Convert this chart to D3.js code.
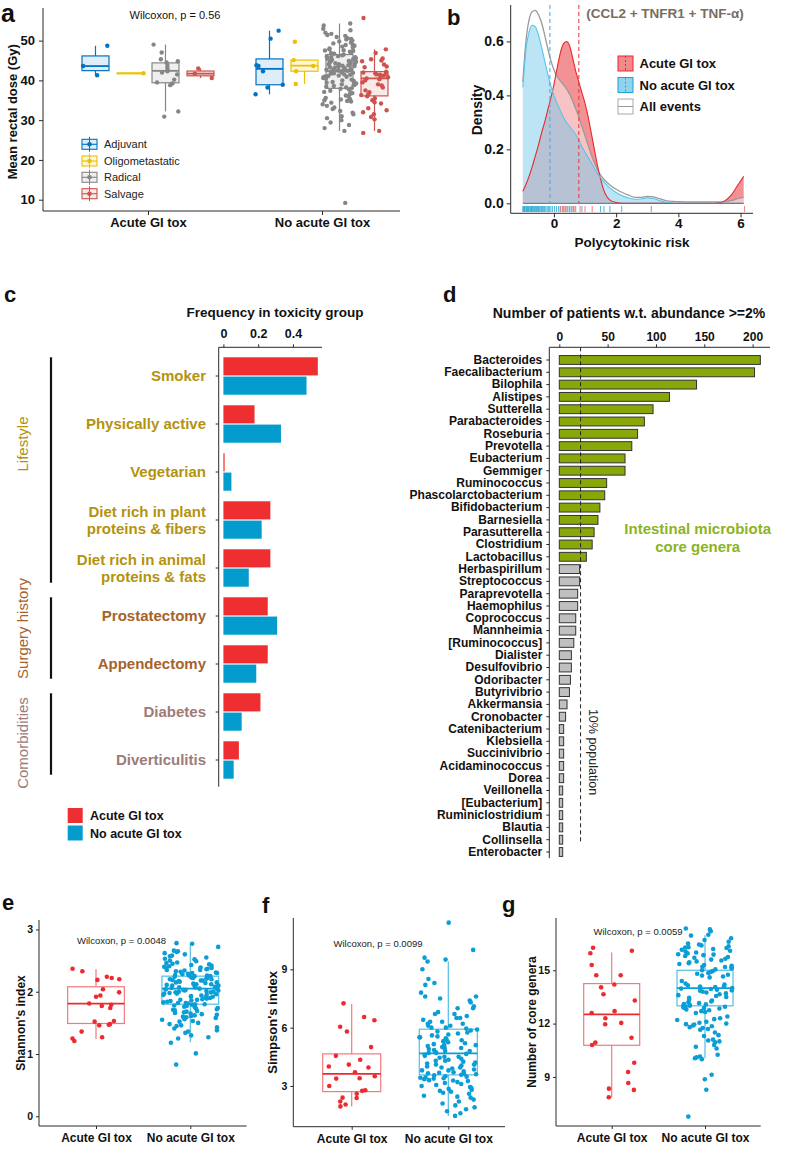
<!DOCTYPE html>
<html><head><meta charset="utf-8">
<script src="https://cdn.jsdelivr.net/npm/d3@7"></script>
<style>body{margin:0;background:#fff}svg{display:block}text{font-family:"Liberation Sans",Arial,sans-serif}</style>
</head><body><svg id="fig" width="794" height="1158"></svg>
<script>
// ================= DATA =================
// ---- panel a : mean rectal dose ----
const aGroups = ["Acute GI tox", "No acute GI tox"];
const aIntents = ["Adjuvant", "Oligometastatic", "Radical", "Salvage"];
const aColors = ["#0073C2", "#EFC000", "#868686", "#CD534C"];
const aAcuteAdjuvant = [48.7, 43.6, 41.3];
const aAcuteOligo = [41.8];
const aAcuteRadical = [49.0, 47.0, 45.3, 44.8, 44.5, 43.9, 43.2, 42.6, 42.3, 42.0, 41.5, 40.2, 39.5, 39.2, 38.8, 32.2, 30.9];
const aAcuteSalvage = [43.0, 41.7, 40.6];
const aNoAdjuvant = [52.5, 50.5, 43.8, 43.6, 42.3, 38.9, 38.2, 36.5];
const aNoOligo = [49.7, 45.1, 43.6, 42.3, 39.1];
const aNoRadical = [54.3,53.8,53.0,52.6,52.0,51.7,51.4,51.2,50.9,50.6,50.4,50.3,50.0,49.8,49.5,49.3,49.0,48.9,48.7,48.5,48.3,48.0,47.8,47.6,47.5,47.4,47.2,47.0,46.9,46.7,46.5,46.3,46.1,46.0,45.9,45.8,45.6,45.4,45.3,45.2,45.1,44.9,44.8,44.7,44.6,44.5,44.3,44.2,44.1,44.0,43.9,43.8,43.7,43.6,43.5,43.4,43.3,43.2,43.1,43.0,42.9,42.9,42.8,42.7,42.6,42.5,42.4,42.3,42.2,42.2,42.1,42.0,41.9,41.8,41.7,41.5,41.4,41.2,41.1,41.0,40.9,40.8,40.6,40.4,40.2,40.0,39.9,39.8,39.6,39.4,39.2,39.0,38.9,38.8,38.6,38.4,38.2,38.0,37.9,37.7,37.4,37.1,36.9,36.8,36.5,36.2,35.9,35.6,35.3,35.2,35.0,34.8,34.7,34.4,34.0,33.6,33.2,32.8,32.3,31.9,31.5,31.0,30.5,30.0,29.4,28.8,28.0,27.3,9.2];
const aNoSalvage = [55.7,47.8,46.9,45.5,45.3,45.0,44.8,44.0,43.5,43.3,42.2,42.0,41.8,41.7,41.5,41.4,41.2,41.0,40.8,40.5,40.3,40.0,39.5,39.0,38.7,38.2,37.5,37.0,36.5,36.3,36.0,35.5,35.0,34.5,34.2,33.0,32.5,32.0,31.5,30.8,30.2,27.3,26.8];
// box stats [lower whisker, q1, median, q3, upper whisker]
const aStatsAcute = [[41.3,42.45,43.6,46.15,48.7],[41.8,41.8,41.8,41.8,41.8],[32.2,39.4,42.4,44.4,49.0],[40.6,41.15,41.7,42.35,43.0]];
const aStatsNo = [[36.5,38.9,42.9,45.4,52.5],[39.1,42.3,43.7,45.1,45.1],[27.3,38.0,42.3,46.5,54.3],[27.3,36.1,40.5,42.2,47.8]];
const aTicks = [10, 20, 30, 40, 50];

// ---- panel b : polycytokinic risk densities ----
const bGrid  = [-1,-0.9,-0.8,-0.7,-0.6,-0.5,-0.4,-0.3,-0.2,-0.1,0,0.1,0.2,0.3,0.4,0.5,0.6,0.7,0.8,0.9,1.0,1.1,1.2,1.3,1.4,1.5,1.6,1.7,1.8,2.0,2.2,2.4,2.6,2.8,3.0,3.2,3.4,3.6,3.8,4.0,4.5,5.0,5.3,5.5,5.7,5.9,6.1];
const bAcute = [0.045,0.07,0.1,0.135,0.175,0.215,0.26,0.3,0.345,0.39,0.44,0.5,0.555,0.59,0.6,0.585,0.54,0.49,0.45,0.41,0.37,0.32,0.26,0.2,0.14,0.09,0.05,0.025,0.012,0.003,0,0,0,0,0,0,0,0,0,0,0,0,0.002,0.01,0.03,0.065,0.1];
const bNo    = [0.43,0.57,0.635,0.66,0.655,0.625,0.58,0.53,0.48,0.435,0.4,0.37,0.345,0.32,0.3,0.285,0.27,0.255,0.235,0.21,0.19,0.17,0.15,0.13,0.11,0.095,0.08,0.068,0.057,0.04,0.028,0.02,0.015,0.016,0.02,0.018,0.01,0.004,0.001,0,0,0,0,0,0,0,0];
const bAll   = [0.45,0.6,0.68,0.71,0.715,0.7,0.67,0.625,0.575,0.53,0.495,0.47,0.455,0.44,0.425,0.405,0.38,0.35,0.32,0.285,0.25,0.215,0.18,0.15,0.125,0.105,0.09,0.078,0.068,0.052,0.04,0.03,0.022,0.022,0.026,0.024,0.017,0.01,0.007,0.006,0.005,0.005,0.005,0.006,0.01,0.017,0.023];
const bMedians = [0.8, -0.13]; // acute, no acute
const bRugNo = [-1.0,-0.98,-0.95,-0.93,-0.9,-0.88,-0.85,-0.82,-0.8,-0.77,-0.75,-0.72,-0.7,-0.68,-0.65,-0.62,-0.6,-0.57,-0.55,-0.52,-0.5,-0.47,-0.44,-0.4,-0.37,-0.33,-0.3,-0.26,-0.22,-0.18,-0.15,-0.1,-0.05,0.02,0.08,0.15,0.22,0.3,0.38,0.45,0.55,0.62,0.7,0.9,1.5,1.61,1.8,2.18,3.13];
const bRugAcute = [0.2,0.28,0.35,0.42,0.5,0.58,0.65,0.84,1.0,1.23,6.13];
const bYTicks = [0, 0.2, 0.4, 0.6];
const bXTicks = [0, 2, 4, 6];

// ---- panel c : frequency in toxicity group ----
const cCats = ["Smoker","Physically active","Vegetarian","Diet rich in plant\nproteins & fibers","Diet rich in animal\nproteins & fats","Prostatectomy","Appendectomy","Diabetes","Diverticulitis"];
const cCatGroup = ["Lifestyle","Lifestyle","Lifestyle","Lifestyle","Lifestyle","Surgery history","Surgery history","Comorbidities","Comorbidities"];
const cAcute = [0.543,0.179,0.007,0.27,0.27,0.255,0.255,0.213,0.089];
const cNo    = [0.478,0.331,0.046,0.22,0.146,0.309,0.189,0.105,0.059];
const cTicks = [0, 0.2, 0.4];

// ---- panel d : genera abundance ----
const dGenera = ["Bacteroides","Faecalibacterium","Bilophila","Alistipes","Sutterella","Parabacteroides","Roseburia","Prevotella","Eubacterium","Gemmiger","Ruminococcus","Phascolarctobacterium","Bifidobacterium","Barnesiella","Parasutterella","Clostridium","Lactobacillus","Herbaspirillum","Streptococcus","Paraprevotella","Haemophilus","Coprococcus","Mannheimia","[Ruminococcus]","Dialister","Desulfovibrio","Odoribacter","Butyrivibrio","Akkermansia","Cronobacter","Catenibacterium","Klebsiella","Succinivibrio","Acidaminococcus","Dorea","Veillonella","[Eubacterium]","Ruminiclostridium","Blautia","Collinsella","Enterobacter"];
const dCounts = [208,202,142,114,97,88,81,75,68,68,49,47,42,40,36,34,28,21,21,19,19,17,17,15,12.5,12.5,11.5,10.5,8,6.5,4.5,4.5,4.5,4.5,4.5,3.5,3.5,3.5,3.5,3.5,3.5];
const dCoreN = 17;
const dThreshold = 22;
const dTicks = [0, 50, 100, 150, 200];

// ---- panels e, f, g : diversity ----
const eAcute = [2.37,2.33,2.24,2.22,2.2,2.19,2.04,1.99,1.94,1.92,1.81,1.79,1.77,1.74,1.53,1.52,1.48,1.47,1.46,1.36,1.27,1.25,1.21];
const eNo = [2.78,2.77,2.72,2.66,2.65,2.64,2.62,2.6,2.58,2.57,2.55,2.53,2.52,2.5,2.49,2.47,2.46,2.45,2.44,2.43,2.42,2.41,2.4,2.39,2.39,2.38,2.37,2.36,2.35,2.35,2.34,2.33,2.32,2.31,2.3,2.3,2.29,2.28,2.27,2.26,2.26,2.25,2.25,2.24,2.23,2.22,2.22,2.21,2.2,2.2,2.19,2.18,2.18,2.17,2.16,2.15,2.15,2.14,2.13,2.12,2.12,2.11,2.1,2.1,2.09,2.08,2.08,2.07,2.07,2.06,2.05,2.05,2.04,2.04,2.03,2.03,2.02,2.02,2.01,2.0,2.0,1.99,1.99,1.98,1.97,1.97,1.96,1.95,1.95,1.94,1.93,1.92,1.92,1.91,1.9,1.89,1.88,1.87,1.87,1.86,1.85,1.84,1.83,1.82,1.82,1.81,1.8,1.8,1.79,1.78,1.77,1.76,1.75,1.74,1.73,1.72,1.71,1.7,1.69,1.68,1.67,1.66,1.65,1.64,1.63,1.62,1.61,1.6,1.59,1.58,1.56,1.55,1.53,1.52,1.5,1.48,1.46,1.45,1.43,1.41,1.38,1.36,1.34,1.3,1.27,1.25,1.18,1.01,0.83];
const eStats = [[1.24,1.49,1.81,2.08,2.36],[1.19,1.80,2.05,2.25,2.78]];
const fAcute = [7.25,6.55,6.38,6.05,5.8,5.0,4.55,4.35,4.1,4.0,3.95,3.7,3.5,3.4,3.38,3.0,2.78,2.75,2.6,2.4,2.38,2.2,2.05,1.95];
const fNo = [11.4,10.0,9.6,9.5,9.4,9.0,8.5,8.3,8.2,7.8,7.6,7.6,7.5,7.4,7.3,7.1,7.0,7.0,6.8,6.7,6.7,6.6,6.5,6.5,6.4,6.3,6.3,6.2,6.2,6.1,6.1,6.0,6.0,5.95,5.9,5.85,5.8,5.75,5.7,5.65,5.6,5.55,5.5,5.5,5.45,5.4,5.35,5.3,5.3,5.25,5.2,5.15,5.1,5.1,5.05,5.0,4.95,4.95,4.9,4.85,4.8,4.8,4.75,4.7,4.7,4.65,4.6,4.55,4.5,4.5,4.45,4.4,4.35,4.3,4.3,4.25,4.2,4.15,4.1,4.1,4.05,4.0,3.95,3.95,3.9,3.85,3.8,3.8,3.75,3.7,3.68,3.65,3.62,3.6,3.58,3.55,3.5,3.48,3.45,3.42,3.4,3.38,3.35,3.3,3.28,3.25,3.2,3.15,3.1,3.05,3.0,2.95,2.9,2.85,2.8,2.75,2.7,2.65,2.6,2.5,2.45,2.4,2.3,2.2,2.1,2.0,1.9,1.8,1.7,1.6,1.46];
const fStats = [[1.94,2.71,3.62,4.65,7.22],[1.46,3.57,4.68,5.92,9.4]];
const gAcute = [15.96,16.27,16.1,15.3,14.72,14.72,14.2,14.04,13.65,13.3,12.7,12.6,12.3,12.04,11.96,11.2,10.93,10.8,9.8,9.28,8.66,8.34,8.27,7.86];
const gNo = [17.35,17.3,17.2,17.0,16.95,16.8,16.7,16.6,16.5,16.45,16.4,16.35,16.3,16.28,16.25,16.2,16.15,16.1,16.05,16.0,15.95,15.9,15.88,15.85,15.8,15.75,15.7,15.65,15.6,15.55,15.5,15.45,15.4,15.35,15.3,15.25,15.2,15.18,15.15,15.1,15.05,15.0,14.95,14.9,14.85,14.8,14.75,14.7,14.65,14.6,14.4,14.25,14.2,14.15,14.1,14.08,14.05,14.0,13.97,13.95,13.9,13.87,13.85,13.8,13.75,13.7,13.65,13.6,13.55,13.5,13.45,13.35,13.3,13.25,13.2,13.15,13.1,13.08,13.05,13.02,13.0,12.97,12.95,12.9,12.88,12.85,12.8,12.75,12.7,12.65,12.6,12.4,12.3,12.25,12.2,12.1,12.05,12.0,11.97,11.95,11.9,11.85,11.8,11.75,11.7,11.65,11.5,11.35,11.3,11.1,11.05,11.0,10.95,10.8,10.7,10.6,10.25,10.15,10.1,10.05,10.0,9.12,8.87,8.28,6.77];
const gStats = [[7.84,10.78,12.52,14.25,16.0],[10.05,13.0,14.0,15.0,16.97]];

// ================= DRAWING =================
const svg = d3.select("#fig");
svg.append("rect").attr("width",794).attr("height",1158).attr("fill","#fff");
const AX = "#2a2a2a";
const SANS = "Liberation Sans, Arial, sans-serif";
const LATO = "Lato, 'Open Sans', sans-serif";
// deterministic horizontal jitter (position only)
function jit(i, half, seed){
  const s = Math.sin((i + 1) * 12.9898 + (seed || 0) * 78.233) * 43758.5453;
  return ((s - Math.floor(s)) - 0.5) * 2 * half;
}
function styleAxis(g, size, weight){
  g.select(".domain").remove();
  g.selectAll(".tick line").attr("stroke", AX);
  g.selectAll(".tick text").attr("font-size", size).attr("font-weight", weight || "bold")
    .attr("fill", "#111").attr("font-family", SANS);
}
function hline(x1,x2,y){ svg.append("line").attr("x1",x1).attr("x2",x2).attr("y1",y).attr("y2",y).attr("stroke",AX).attr("stroke-width",1); }
function vline(x,y1,y2){ svg.append("line").attr("x1",x).attr("x2",x).attr("y1",y1).attr("y2",y2).attr("stroke",AX).attr("stroke-width",1); }
function txt(x,y,s,size,opts){
  opts = opts || {};
  const t = svg.append("text").attr("x",x).attr("y",y).text(s).attr("font-size",size)
    .attr("font-weight",opts.weight||"normal").attr("fill",opts.fill||"#111")
    .attr("text-anchor",opts.anchor||"start").attr("font-family",opts.family||SANS);
  if (opts.rotate) t.attr("transform",`rotate(${opts.rotate},${x},${y})`);
  if (opts.dy) t.attr("dy",opts.dy);
  return t;
}
function drawBox(g, cx, w, st, y, stroke, fill, fillOp, medStroke){
  g.append("line").attr("x1",cx).attr("x2",cx).attr("y1",y(st[0])).attr("y2",y(st[1])).attr("stroke",stroke).attr("stroke-width",1.2);
  g.append("line").attr("x1",cx).attr("x2",cx).attr("y1",y(st[3])).attr("y2",y(st[4])).attr("stroke",stroke).attr("stroke-width",1.2);
  g.append("rect").attr("x",cx-w/2).attr("width",w).attr("y",y(st[3])).attr("height",Math.max(0.5,y(st[1])-y(st[3])))
    .attr("fill",fill).attr("fill-opacity",fillOp).attr("stroke",stroke).attr("stroke-width",1.2);
  g.append("line").attr("x1",cx-w/2).attr("x2",cx+w/2).attr("y1",y(st[2])).attr("y2",y(st[2])).attr("stroke",medStroke||stroke).attr("stroke-width",1.8);
}

// ---------- panel a ----------
(function(){
  const y = d3.scaleLinear().domain([7.16,58.2]).range([211,8]);
  const x = d3.scalePoint().domain(aGroups).range([148,322]);
  const dodge = d3.scaleBand().domain(aIntents).range([-70,70]).paddingInner(0.229).paddingOuter(0.1145);
  const g = svg.append("g");
  const pts = [[aAcuteAdjuvant,aAcuteOligo,aAcuteRadical,aAcuteSalvage],[aNoAdjuvant,aNoOligo,aNoRadical,aNoSalvage]];
  const stats = [aStatsAcute, aStatsNo];
  aGroups.forEach((grp,gi)=>{
    aIntents.forEach((it,ii)=>{
      const cx = x(grp) + dodge(it) + dodge.bandwidth()/2;
      drawBox(g, cx, dodge.bandwidth(), stats[gi][ii], y, aColors[ii], aColors[ii], 0.13);
      const half = pts[gi][ii].length > 60 ? 17 : 14;
      g.selectAll(null).data(pts[gi][ii]).join("circle")
        .attr("cx",(d,i)=> pts[gi][ii].length===1 ? cx + 13 : cx + jit(i, half, gi*4+ii))
        .attr("cy",d=>y(d)).attr("r",2.2).attr("fill",aColors[ii]);
    });
  });
  vline(43,8,211); hline(43,400,211);
  const ya = svg.append("g").attr("transform","translate(43,0)").call(d3.axisLeft(y).tickValues(aTicks).tickSize(4).tickPadding(4));
  styleAxis(ya, 13);
  const xa = svg.append("g").attr("transform","translate(0,211)").call(d3.axisBottom(x).tickSize(4).tickPadding(2.5));
  styleAxis(xa, 13);
  txt(1,22,"a",25,{weight:"bold"});
  txt(175,19,"Wilcoxon, p = 0.56",11,{anchor:"middle"});
  txt(17.5,111.7,"Mean rectal dose (Gy)",13,{weight:"bold",anchor:"middle",rotate:-90});
  const ly = [144.3,161,177.3,193.7];
  aIntents.forEach((it,i)=>{
    const c = aColors[i];
    svg.append("line").attr("x1",89.5).attr("x2",89.5).attr("y1",ly[i]-7.5).attr("y2",ly[i]+7.5).attr("stroke",c).attr("stroke-width",1);
    svg.append("rect").attr("x",82).attr("y",ly[i]-5).attr("width",15).attr("height",10).attr("fill",c).attr("fill-opacity",0.13).attr("stroke",c).attr("stroke-width",1.1);
    svg.append("line").attr("x1",82).attr("x2",97).attr("y1",ly[i]).attr("y2",ly[i]).attr("stroke",c).attr("stroke-width",1.1);
    svg.append("circle").attr("cx",89.5).attr("cy",ly[i]).attr("r",2.3).attr("fill",c);
    txt(104,ly[i],it,11,{dy:"0.35em",fill:"#222"});
  });
})();

// ---------- panel b ----------
(function(){
  const x = d3.scaleLinear().domain([-1.39,6.4]).range([510.7,753]);
  const y = d3.scaleLinear().domain([-0.037,0.735]).range([213.3,5]);
  const g = svg.append("g");
  const area = vals => d3.area().x((d,i)=>x(bGrid[i])).y0(y(0)).y1((d)=>y(d)).curve(d3.curveMonotoneX)(vals);
  const line = vals => d3.line().x((d,i)=>x(bGrid[i])).y(d=>y(d)).curve(d3.curveMonotoneX)(vals);
  g.append("path").attr("d",area(bAcute)).attr("fill","#e8383d").attr("fill-opacity",0.55);
  g.append("path").attr("d",area(bAll)).attr("fill","#ffffff").attr("fill-opacity",0.45);
  g.append("path").attr("d",area(bNo)).attr("fill","#69c3e8").attr("fill-opacity",0.45);
  g.append("path").attr("d",line(bAll)).attr("fill","none").attr("stroke","#9a9a9a").attr("stroke-width",1.3);
  g.append("path").attr("d",line(bAcute)).attr("fill","none").attr("stroke","#e8282e").attr("stroke-width",1.1);
  g.append("path").attr("d",line(bNo)).attr("fill","none").attr("stroke","#5bc4ea").attr("stroke-width",1.1);
  g.append("line").attr("x1",x(-1)).attr("x2",x(6.1)).attr("y1",y(0)).attr("y2",y(0)).attr("stroke","#5d6b7d").attr("stroke-width",1);
  g.append("line").attr("x1",x(bMedians[1])).attr("x2",x(bMedians[1])).attr("y1",5).attr("y2",y(0)).attr("stroke","#4aaee0").attr("stroke-width",1.1).attr("stroke-dasharray","4,3");
  g.append("line").attr("x1",x(bMedians[0])).attr("x2",x(bMedians[0])).attr("y1",5).attr("y2",y(0)).attr("stroke","#e84040").attr("stroke-width",1.1).attr("stroke-dasharray","4,3");
  g.selectAll(null).data(bRugNo).join("line").attr("x1",d=>x(d)).attr("x2",d=>x(d)).attr("y1",206).attr("y2",212)
    .attr("stroke","#1e9fd0").attr("stroke-width",0.8);
  g.selectAll(null).data(bRugAcute).join("line").attr("x1",d=>x(d)).attr("x2",d=>x(d)).attr("y1",206).attr("y2",212)
    .attr("stroke","#f05a5a").attr("stroke-width",0.8);
  vline(510.7,5,213.3); hline(510.7,753,213.3);
  const ya = svg.append("g").attr("transform","translate(510.7,0)").call(d3.axisLeft(y).tickValues(bYTicks).tickFormat(d3.format(".1f")).tickSize(4).tickPadding(3));
  styleAxis(ya, 14);
  const xa = svg.append("g").attr("transform","translate(0,213.3)").call(d3.axisBottom(x).tickValues(bXTicks).tickFormat(d3.format("d")).tickSize(4).tickPadding(1.5));
  styleAxis(xa, 13.5);
  txt(447,25,"b",22,{weight:"bold"});
  txt(665,18,"(CCL2 + TNFR1 + TNF-\u03b1)",13.5,{weight:"bold",anchor:"middle",family:LATO,fill:"#7a6c60"});
  txt(481.5,110,"Density",14,{weight:"bold",anchor:"middle",rotate:-90});
  txt(632,246.5,"Polycytokinic risk",13.5,{weight:"bold",anchor:"middle"});
  const ky = [56,77.5,99];
  svg.append("rect").attr("x",618).attr("y",ky[0]).attr("width",15).attr("height",15).attr("fill","#f28a8c").attr("stroke","#e8282e");
  svg.append("line").attr("x1",625.5).attr("x2",625.5).attr("y1",ky[0]).attr("y2",ky[0]+15).attr("stroke","#e8282e").attr("stroke-dasharray","2,2");
  svg.append("rect").attr("x",618).attr("y",ky[1]).attr("width",15).attr("height",15).attr("fill","#8fd3ef").attr("stroke","#1ea0d8");
  svg.append("line").attr("x1",625.5).attr("x2",625.5).attr("y1",ky[1]).attr("y2",ky[1]+15).attr("stroke","#1ea0d8").attr("stroke-dasharray","2,2");
  svg.append("rect").attr("x",618).attr("y",ky[2]).attr("width",15).attr("height",15).attr("fill","#fff").attr("stroke","#aaa");
  svg.append("line").attr("x1",618).attr("x2",633).attr("y1",ky[2]+7.5).attr("y2",ky[2]+7.5).attr("stroke","#999");
  ["Acute GI tox","No acute GI tox","All events"].forEach((s,i)=>txt(639.5,ky[i]+7.5,s,13,{weight:"bold",dy:"0.35em"}));
})();

// ---------- panel c ----------
(function(){
  const x = d3.scaleLinear().domain([-0.027,0.567]).range([218.7,322]);
  const y = d3.scaleBand().domain(cCats).range([352,784]).paddingInner(0.22).paddingOuter(0.11);
  const sub = d3.scaleBand().domain(["acute","no"]).range([0,y.bandwidth()]).paddingInner(0.06);
  const g = svg.append("g");
  const groupColor = {"Lifestyle":"#b3930e","Surgery history":"#a5632b","Comorbidities":"#9d7b79"};
  cCats.forEach((c,i)=>{
    g.append("rect").attr("x",x(0)).attr("y",y(c)+sub("acute")).attr("width",x(cAcute[i])-x(0)).attr("height",sub.bandwidth()).attr("fill","#ee2e31");
    g.append("rect").attr("x",x(0)).attr("y",y(c)+sub("no")).attr("width",x(cNo[i])-x(0)).attr("height",sub.bandwidth()).attr("fill","#049bcd");
    const lines = c.split("\n");
    const cy = y(c) + y.bandwidth()/2;
    lines.forEach((l,j)=>{
      txt(206, cy + (j-(lines.length-1)/2)*17, l, 15, {weight:"bold",anchor:"end",family:LATO,fill:groupColor[cCatGroup[i]],dy:"0.35em"});
    });
  });
  vline(218.7,347.3,786.7); hline(218.7,322,347.3);
  const xa = svg.append("g").attr("transform","translate(0,347.3)").call(d3.axisTop(x).tickValues(cTicks).tickFormat(d=>d===0?"0":d3.format(".1f")(d)).tickSize(3).tickPadding(6));
  styleAxis(xa, 12.5);
  const ya = svg.append("g").attr("transform","translate(218.7,0)").call(d3.axisLeft(y).tickSize(3).tickFormat(""));
  styleAxis(ya, 1);
  txt(4,302,"c",22,{weight:"bold"});
  txt(275,317,"Frequency in toxicity group",13.5,{weight:"bold",anchor:"middle"});
  const groups = [["Lifestyle",0,4,444],["Surgery history",5,6,628.5],["Comorbidities",7,8,743]];
  groups.forEach(([name,a,b,ly])=>{
    svg.append("line").attr("x1",51).attr("x2",51).attr("y1",y(cCats[a])).attr("y2",y(cCats[b])+y.bandwidth()-4)
      .attr("stroke","#111").attr("stroke-width",2.2);
    txt(27.5, ly, name, 15, {anchor:"middle",rotate:-90,family:LATO,fill:groupColor[name]});
  });
  svg.append("rect").attr("x",67.7).attr("y",808).attr("width",15).attr("height",15).attr("fill","#ee2e31");
  svg.append("rect").attr("x",67.7).attr("y",825.5).attr("width",15).attr("height",15).attr("fill","#049bcd");
  txt(90,815.5,"Acute GI tox",12.5,{weight:"bold",dy:"0.35em"});
  txt(90,833.5,"No acute GI tox",12.5,{weight:"bold",dy:"0.35em"});
})();

// ---------- panel d ----------
(function(){
  const x = d3.scaleLinear().domain([-10.35,218]).range([549.3,770]);
  const y = d3.scaleBand().domain(dGenera).range([353.85,858.15]).paddingInner(0.28).paddingOuter(0.14);
  const g = svg.append("g");
  g.selectAll(null).data(dGenera).join("rect")
    .attr("x",x(0)).attr("y",d=>y(d)).attr("height",y.bandwidth())
    .attr("width",(d,i)=>x(dCounts[i])-x(0))
    .attr("fill",(d,i)=> i < dCoreN ? "#88a80a" : "#c0c0c0")
    .attr("stroke","#333").attr("stroke-width",1);
  g.append("line").attr("x1",x(dThreshold)).attr("x2",x(dThreshold)).attr("y1",347.3).attr("y2",842)
    .attr("stroke","#222").attr("stroke-width",1).attr("stroke-dasharray","4,3");
  vline(549.3,347.3,858.15); hline(549.3,770,347.3);
  const xa = svg.append("g").attr("transform","translate(0,347.3)").call(d3.axisTop(x).tickValues(dTicks).tickSize(3).tickPadding(3));
  styleAxis(xa, 12);
  const ya = svg.append("g").attr("transform","translate(549.3,0)").call(d3.axisLeft(y).tickSize(3).tickPadding(4));
  styleAxis(ya, 12);
  txt(443,302,"d",22,{weight:"bold"});
  txt(629,318,"Number of patients w.t. abundance >=2%",14,{weight:"bold",anchor:"middle"});
  txt(697.7,529,"Intestinal microbiota",15,{weight:"bold",anchor:"middle",family:LATO,fill:"#8cb41e",dy:"0.35em"});
  txt(697.7,547,"core genera",15,{weight:"bold",anchor:"middle",family:LATO,fill:"#8cb41e",dy:"0.35em"});
  txt(593,752,"10% population",12.5,{anchor:"middle",rotate:90,dy:"0.35em",fill:"#222"});
})();

// ---------- panels e, f, g ----------
function diversityPanel(o){
  const y = d3.scaleLinear().domain(o.domain).range([o.bottom,o.top]);
  const x = d3.scalePoint().domain(aGroups).range(o.xs);
  const g = svg.append("g");
  const colors = [["#f27a7e","#ee2a2f","#ee2a2f"],["#55bde6","#0b9ed6","#0b9ed6"]];
  [o.acute,o.no].forEach((vals,gi)=>{
    const cx = x(aGroups[gi]);
    drawBox(g, cx, o.boxW, o.stats[gi], y, colors[gi][0], "#fff", 0, colors[gi][1]);
    const half = gi===0 ? o.boxW*0.42 : o.boxW*0.5;
    g.selectAll(null).data(vals).join("circle")
      .attr("cx",(d,i)=>cx + jit(i,half,o.seed+gi)).attr("cy",d=>y(d)).attr("r",2.3).attr("fill",colors[gi][2]);
  });
  vline(o.axisX,o.top,o.bottom); hline(o.axisX,o.axisEnd,o.bottom);
  const ya = svg.append("g").attr("transform",`translate(${o.axisX},0)`).call(d3.axisLeft(y).tickValues(o.ticks).tickFormat(d3.format("d")).tickSize(3).tickPadding(3));
  styleAxis(ya, o.tickSize);
  const xa = svg.append("g").attr("transform",`translate(0,${o.bottom})`).call(d3.axisBottom(x).tickSize(3).tickPadding(4.5));
  styleAxis(xa, 12);
  txt(o.letterX, o.letterY, o.letter, 22, {weight:"bold"});
  txt(o.wx, o.wy, o.wilcox, 9.5, {anchor:"middle",fill:"#222"});
  txt(o.labX, (o.top+o.bottom)/2, o.ylab, o.ylabSize, {weight:"bold",anchor:"middle",rotate:-90});
}
diversityPanel({domain:[-0.156,3.152],top:920,bottom:1126,xs:[96,190.3],boxW:56.7,axisX:39,axisEnd:246.7,seed:11,
  acute:eAcute,no:eNo,stats:eStats,ticks:[0,1,2,3],tickSize:10.5,letter:"e",letterX:2,letterY:910,
  wx:121.5,wy:943.5,wilcox:"Wilcoxon, p = 0.0048",labX:25,ylab:"Shannon's index",ylabSize:12});
diversityPanel({domain:[0.905,11.64],top:918,bottom:1126.7,xs:[351.7,448.3],boxW:58,axisX:293.3,axisEnd:505,seed:23,
  acute:fAcute,no:fNo,stats:fStats,ticks:[3,6,9],tickSize:10.5,letter:"f",letterX:262,letterY:913,
  wx:378,wy:946.5,wilcox:"Wilcoxon, p = 0.0099",labX:277.5,ylab:"Simpson's index",ylabSize:13});
diversityPanel({domain:[6.24,17.94],top:918,bottom:1126,xs:[611.7,705],boxW:56,axisX:556,axisEnd:760.7,seed:37,
  acute:gAcute,no:gNo,stats:gStats,ticks:[9,12,15],tickSize:10.5,letter:"g",letterX:502,letterY:912,
  wx:638,wy:935,wilcox:"Wilcoxon, p = 0.0059",labX:536,ylab:"Number of core genera",ylabSize:12});
</script></body></html>
